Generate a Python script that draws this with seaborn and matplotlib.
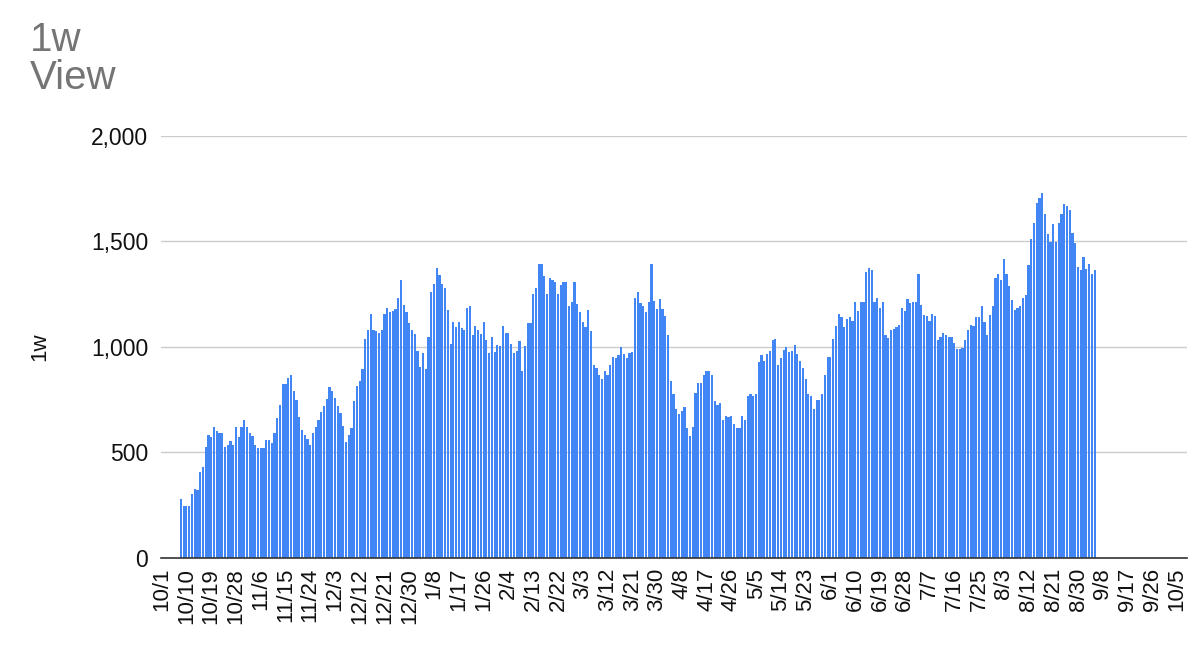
import numpy as np
import pandas as pd
import seaborn as sns
import matplotlib.pyplot as plt
from matplotlib.ticker import FuncFormatter

# daily "1w" views, first bar is 10/8 (day 7 counted from 10/1)
first_day = 7
views_1w = [
    281, 245, 245, 245, 302, 328, 320, 406, 433, 527,
    583, 575, 622, 602, 594, 594, 527, 536, 555, 534,
    622, 575, 622, 652, 622, 594, 578, 536, 520, 520,
    523, 558, 558, 547, 594, 661, 723, 823, 823, 852,
    867, 792, 750, 669, 606, 583, 566, 536, 594, 622,
    652, 691, 719, 753, 808, 789, 758, 719,
    689, 627, 550, 584, 615, 744, 814, 837, 894, 1036,
    1081, 1158, 1078, 1075, 1065, 1081, 1158, 1186, 1163, 1171,
    1179, 1230, 1315, 1197, 1163, 1112, 1081, 1062, 980, 907,
    969, 894, 1047, 1261, 1298, 1373, 1342, 1298, 1280, 1174,
    1016, 1120, 1093, 1120, 1090, 1081, 1186, 1194, 1054, 1101,
    1078, 1062, 1120, 1031, 969, 1047, 977, 1008, 1003,
    1101, 1065, 1065, 1016, 972, 981, 1028, 887, 1003, 1112,
    1112, 1252, 1280, 1391, 1391, 1334, 1252, 1326, 1318, 1306,
    1252, 1295, 1306, 1306, 1194, 1213, 1306, 1205, 1163, 1120,
    1093, 1174, 1075, 915, 899, 868, 848, 884, 868, 915,
    953, 946, 961, 1000, 966, 946, 969, 977, 1233, 1261,
    1210, 1194, 1163, 1214, 1391, 1217, 1179, 1225,
    1179, 1148, 1054, 840, 775, 708, 682, 697, 717, 615,
    578, 623, 783, 829, 829, 868, 887, 887, 868, 744,
    724, 736, 654, 674, 666, 671, 634, 615, 615, 671,
    655, 767, 775, 767, 775, 930, 961, 935, 964, 980,
    1034, 1039, 915, 946, 984, 1000, 977, 980, 1011, 964,
    935, 899, 848, 775, 767, 708, 747, 747,
    775, 868, 953, 953, 1036, 1101, 1158, 1140, 1093, 1132,
    1140, 1121, 1214, 1168, 1213, 1213, 1354, 1373, 1365, 1214,
    1233, 1186, 1214, 1054, 1043, 1082, 1085, 1096, 1106, 1186,
    1171, 1225, 1210, 1214, 1214, 1346, 1197, 1151, 1148, 1124,
    1158, 1148, 1034, 1047, 1065, 1054, 1047, 1047, 1019, 992,
    988, 997, 1034, 1081, 1106, 1101, 1140, 1143,
    1192, 1116, 1058, 1152, 1192, 1325, 1344, 1318, 1417, 1344,
    1286, 1223, 1173, 1184, 1192, 1231, 1247, 1388, 1509, 1588,
    1679, 1703, 1729, 1629, 1534, 1498, 1580, 1498, 1585, 1629,
    1676, 1667, 1648, 1541, 1494, 1380, 1365, 1428, 1368, 1393,
    1344, 1362,
]

tick_step = 9
tick_labels = [
    "10/1", "10/10", "10/19", "10/28", "11/6", "11/15", "11/24", "12/3",
    "12/12", "12/21", "12/30", "1/8", "1/17", "1/26", "2/4", "2/13",
    "2/22", "3/3", "3/12", "3/21", "3/30", "4/8", "4/17", "4/26",
    "5/5", "5/14", "5/23", "6/1", "6/10", "6/19", "6/28", "7/7",
    "7/16", "7/25", "8/3", "8/12", "8/21", "8/30", "9/8", "9/17",
    "9/26", "10/5",
]

sns.set_theme(style="white")
plt.rcParams["font.family"] = ["Liberation Sans", "DejaVu Sans"]

df = pd.DataFrame({
    "day": np.arange(first_day, first_day + len(views_1w)),
    "views": views_1w,
})

fig = plt.figure(figsize=(12, 6.62), dpi=100)
ax = fig.add_axes([0.134, 0.157, 0.855, 0.638])

sns.barplot(data=df, x="day", y="views", native_scale=True, color="#4285F4",
            saturation=1, width=0.8, linewidth=0, ax=ax)

ax.set_xlim(-0.3, 372.5)
ax.set_ylim(0, 2000)
ax.set_yticks([0, 500, 1000, 1500, 2000])
ax.yaxis.set_major_formatter(FuncFormatter(lambda v, p: f"{int(v):,}"))
ax.set_xticks(np.arange(len(tick_labels)) * tick_step)
ax.set_xticklabels(tick_labels, rotation=90, fontsize=16, color="#111111")
ax.tick_params(axis="x", length=0, pad=7)
ax.tick_params(axis="y", length=0, pad=9, labelsize=16.5, labelcolor="#111111")

ax.grid(axis="y", color="#cccccc", linewidth=1)
ax.set_axisbelow(True)
for side in ["top", "right", "left"]:
    ax.spines[side].set_visible(False)
ax.spines["bottom"].set_color("#333333")
ax.spines["bottom"].set_linewidth(1.2)

ax.set_xlabel("")
ax.set_ylabel("1w", fontsize=16, color="#111111")
ax.yaxis.set_label_coords(-0.108, 0.5)

fig.text(0.025, 0.968, "1w\nView", fontsize=29, color="#757575",
         va="top", ha="left", linespacing=1.0)

fig.savefig("out.png", dpi=100)
